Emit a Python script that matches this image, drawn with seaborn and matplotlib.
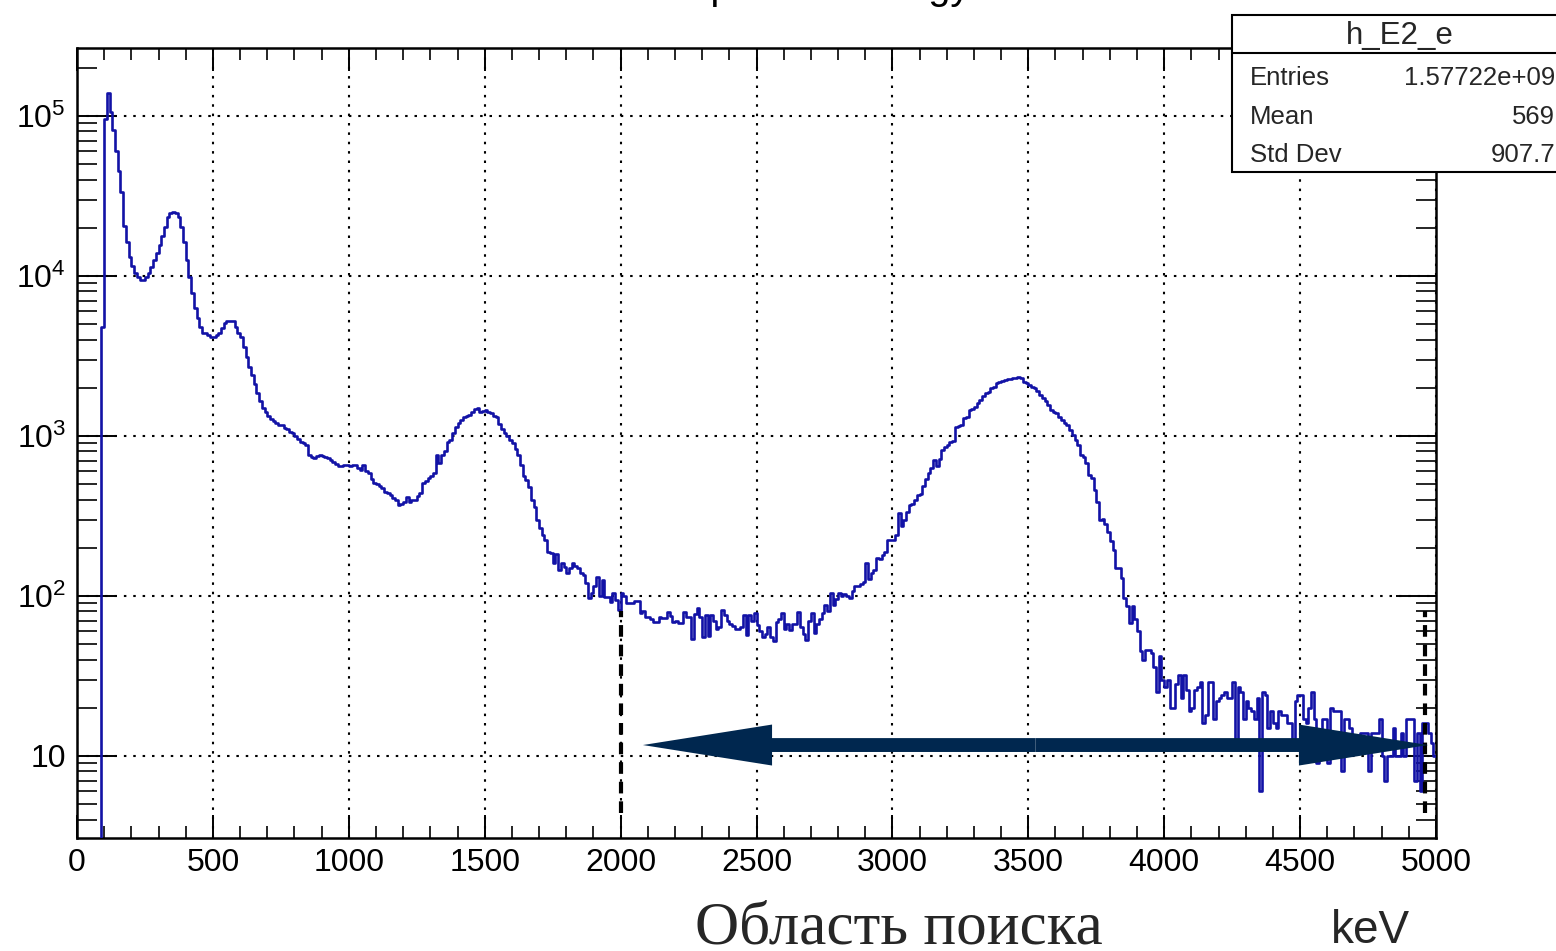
import numpy as np
import pandas as pd
import matplotlib
matplotlib.use("Agg")
import matplotlib.pyplot as plt
import seaborn as sns
from matplotlib.ticker import FixedLocator, MultipleLocator, LogLocator, NullFormatter
from matplotlib.patches import Rectangle, FancyArrowPatch
from matplotlib.lines import Line2D

# ---- histogram contents: 10 keV bins from 0 to 5000 keV ----
bin_width = 10
energy_range = (0, 5000)
counts = [
    0, 0, 0, 0, 0, 0, 0, 0, 0, 4820,                                      # 0-90
    95800, 138600, 106400, 81800, 60400, 45500, 33650, 20540, 16370, 13200,  # 100
    11550, 10490, 9820, 9440, 9440, 9900, 10490, 11430, 12590, 13990,        # 200
    15630, 17780, 20320, 23490, 24880, 25100, 24880, 23490, 20320, 16370,    # 300
    12590, 9900, 7830, 6310, 5460, 4820, 4420, 4420, 4280, 4170,             # 400
    4170, 4280, 4420, 4730, 5080, 5200, 5250, 5200, 4820, 4400,              # 500
    4170, 3600, 3100, 2700, 2400, 2100, 1850, 1650, 1500, 1420,              # 600
    1340, 1280, 1240, 1200, 1170, 1170, 1120, 1100, 1060, 1040,              # 700
    1000, 960, 920, 900, 880, 760, 740, 729, 745, 760,                       # 800
    750, 743, 730, 710, 692, 670, 650, 645, 661, 661,                        # 900
    650, 661, 661, 630, 617, 661, 600, 590, 540, 506,                        # 1000
    500, 490, 470, 449, 440, 427, 410, 398, 371, 375,                        # 1100
    388, 417, 388, 398, 400, 420, 438, 506, 520, 545,                        # 1200
    560, 584, 760, 676, 760, 800, 920, 944, 1050, 1143,                      # 1300
    1202, 1250, 1320, 1330, 1352, 1420, 1480, 1489, 1419, 1440,              # 1400
    1454, 1420, 1386, 1340, 1309, 1190, 1100, 1040, 1000, 940,               # 1500
    900, 830, 760, 660, 560, 531, 480, 398, 361, 298,                        # 1600
    265, 240, 224, 189, 185, 160, 182, 145, 160, 151,                        # 1700
    139, 150, 160, 155, 150, 140, 135, 120, 97, 105,                         # 1800
    115, 131, 100, 125, 99, 99, 92, 105, 95, 82,                             # 1900
    104, 100, 91, 90, 90, 93, 93, 78, 81, 74,                                # 2000
    74, 72, 69, 69, 74, 73, 73, 79, 75, 69,                                  # 2100
    70, 68, 68, 79, 74, 74, 54, 77, 84, 74,                                  # 2200
    55, 76, 56, 76, 70, 62, 64, 82, 76, 70,                                  # 2300
    67, 65, 62, 62, 64, 76, 57, 76, 70, 78,                                  # 2400
    66, 60, 55, 58, 64, 55, 52, 69, 72, 78,                                  # 2500
    62, 67, 61, 67, 67, 79, 64, 58, 53, 70,                                  # 2600
    78, 59, 67, 72, 78, 88, 80, 104, 88, 96,                                 # 2700
    104, 100, 103, 100, 97, 108, 115, 115, 118, 123,                         # 2800
    160, 128, 140, 145, 172, 170, 180, 189, 224, 224,                        # 2900
    224, 240, 329, 275, 300, 336, 371, 378, 400, 427,                        # 3000
    436, 490, 540, 584, 630, 708, 645, 720, 818, 850,                        # 3100
    879, 921, 930, 1143, 1150, 1170, 1290, 1320, 1454, 1480,                 # 3200
    1524, 1600, 1679, 1780, 1849, 1892, 1990, 2033, 2133, 2180,              # 3300
    2214, 2240, 2260, 2270, 2291, 2291, 2345, 2300, 2188, 2130,              # 3400
    2084, 2030, 1986, 1900, 1803, 1718, 1650, 1563, 1454, 1420,              # 3500
    1386, 1320, 1259, 1210, 1170, 1090, 1020, 944, 880, 760,                 # 3600
    740, 676, 570, 543, 460, 388, 298, 302, 280, 252,                        # 3700
    219, 194, 149, 149, 129, 97, 87, 68, 87, 72,                             # 3800
    60, 45, 40, 46, 46, 44, 36, 25, 42, 30,                                  # 3900
    27, 30, 20, 20, 28, 32, 23, 32, 26, 19,                                  # 4000
    20, 26, 27, 29, 16, 18, 29, 29, 17, 22,                                  # 4100
    23, 24, 25, 23, 23, 29, 11, 27, 25, 17,                                  # 4200
    22, 20, 19, 17, 23, 6, 25, 24, 15, 19,                                   # 4300
    16, 15, 19, 18, 18, 16, 16, 12, 22, 24,                                  # 4400
    24, 17, 16, 20, 25, 17, 9, 14, 17, 17,                                   # 4500
    9, 20, 19, 19, 19, 8, 17, 17, 15, 13,                                    # 4600
    12, 12, 14, 14, 14, 8, 14, 14, 14, 17,                                   # 4700
    10, 7, 10, 10, 15, 10, 10, 14, 10, 17,                                   # 4800
    17, 17, 7, 14, 6, 16, 16, 14, 12, 10,                                    # 4900
]

x_ticks = [0, 500, 1000, 1500, 2000, 2500, 3000, 3500, 4000, 4500, 5000]
x_tick_labels = ["0", "500", "1000", "1500", "2000", "2500", "3000",
                 "3500", "4000", "4500", "5000"]
y_ticks = [10, 100, 1000, 10000, 100000]
y_tick_labels = ["10", r"$\mathregular{10^{2}}$", r"$\mathregular{10^{3}}$",
                 r"$\mathregular{10^{4}}$", r"$\mathregular{10^{5}}$"]
y_range = (3.07, 2.66e5)

# search window markers and the arrow spanning it
window_edges = [2000, 4960]
window_marker_span = (4.4, 80)
arrow_ends = (2082, 4971)
arrow_level = 11.7

hist_name = "h_E2_e"
stats_rows = [("Entries", "1.57722e+09"), ("Mean", "569"), ("Std Dev", "907.7")]
title_text = "Deposited energy"
x_unit = "keV"
region_caption = "Область поиска"

line_blue = "#1212a6"
arrow_navy = "#00274f"

# ---- figure ----
sns.set_theme(style="white")
plt.rcParams["font.family"] = ["Liberation Sans", "DejaVu Sans"]
plt.rcParams["mathtext.fontset"] = "custom"
plt.rcParams["mathtext.rm"] = "Liberation Sans"
plt.rcParams["mathtext.it"] = "Liberation Sans:italic"

W, H = 1556, 951
fig = plt.figure(figsize=(W / 100, H / 100), dpi=100)
ax = fig.add_axes([77 / W, 1 - 838 / H, (1436 - 77) / W, (838 - 48) / H])
ax.set_yscale("log")

centers = np.arange(energy_range[0], energy_range[1], bin_width) + bin_width / 2
df = pd.DataFrame({"energy": centers, "counts": counts})

sns.histplot(data=df, x="energy", weights="counts", binwidth=bin_width,
             binrange=energy_range, element="step", fill=False,
             color=line_blue, linewidth=1.9, ax=ax, zorder=3)

ax.set_xlim(*energy_range)
ax.set_ylim(*y_range)
ax.set_xlabel("")
ax.set_ylabel("")

# ticks on all four sides, pointing inwards
ax.xaxis.set_major_locator(FixedLocator(x_ticks))
ax.set_xticklabels(x_tick_labels)
ax.xaxis.set_minor_locator(MultipleLocator(100))
ax.yaxis.set_major_locator(FixedLocator(y_ticks))
ax.set_yticklabels(y_tick_labels)
ax.yaxis.set_minor_locator(LogLocator(base=10, subs=np.arange(2, 10)))
ax.yaxis.set_minor_formatter(NullFormatter())

ax.tick_params(axis="x", which="major", direction="in", length=16.5, width=1.4,
               top=True, bottom=True, labelsize=23, pad=7, colors="black")
ax.tick_params(axis="x", which="minor", direction="in", length=8.6, width=1.4,
               top=True, bottom=True)
ax.tick_params(axis="y", which="major", direction="in", length=29, width=1.4,
               left=True, right=True, labelsize=23, pad=8, colors="black")
ax.tick_params(axis="y", which="minor", direction="in", length=14.4, width=1.4,
               left=True, right=True)
for s in ax.spines.values():
    s.set_linewidth(1.8)
    s.set_color("black")

ax.grid(True, which="major", color="black", linestyle=(0, (1.2, 3.3)),
        linewidth=1.5)
ax.set_axisbelow(True)

# dashed boundaries of the search window
for e in window_edges:
    ax.plot([e, e], window_marker_span, color="black", linewidth=3.0,
            linestyle=(0, (2.8, 1.9)), zorder=4)

# double-headed arrow across the search window
mid = 0.5 * (arrow_ends[0] + arrow_ends[1])
for end in arrow_ends:
    arr = FancyArrowPatch((mid, arrow_level), (end, arrow_level),
                          arrowstyle="simple,head_length=93,head_width=29.5,tail_width=10",
                          mutation_scale=1, shrinkA=0, shrinkB=0,
                          color=arrow_navy, linewidth=0, zorder=6)
    ax.add_patch(arr)

# title, sitting above the top edge of the canvas
fig.text(659.6 / W, 1 + 1.0 / H, title_text, fontsize=28.5, ha="left",
         va="baseline", color="black")

# statistics box
box_left, box_top, box_bottom, box_sep = 1232, 15, 172, 52.7
fig.add_artist(Rectangle((box_left / W, 1 - box_bottom / H), 0.3,
                         (box_bottom - box_top) / H, transform=fig.transFigure,
                         facecolor="white", edgecolor="black", linewidth=1.5,
                         zorder=10))
fig.add_artist(Line2D([box_left / W, 1.2], [1 - box_sep / H] * 2,
                      transform=fig.transFigure, color="black", linewidth=1.5,
                      zorder=11))
fig.text(1400 / W, 1 - 44 / H, hist_name, fontsize=22.5, ha="center",
         va="baseline", zorder=12)
for i, (k, v) in enumerate(stats_rows):
    yb = 1 - (85 + 38.5 * i) / H
    fig.text(1250 / W, yb, k, fontsize=18.5, ha="left", va="baseline", zorder=12)
    fig.text(1555 / W, yb, v, fontsize=18.5, ha="right", va="baseline", zorder=12)

# axis unit and caption under the axis
fig.text(1370 / W, 1 - 943 / H, x_unit, fontsize=33, ha="center", va="baseline")
fig.text(695 / W, 1 - 944 / H, region_caption, fontsize=44, ha="left",
         va="baseline", family=["Liberation Serif", "DejaVu Serif"])

fig.savefig("out.png", dpi=100)
